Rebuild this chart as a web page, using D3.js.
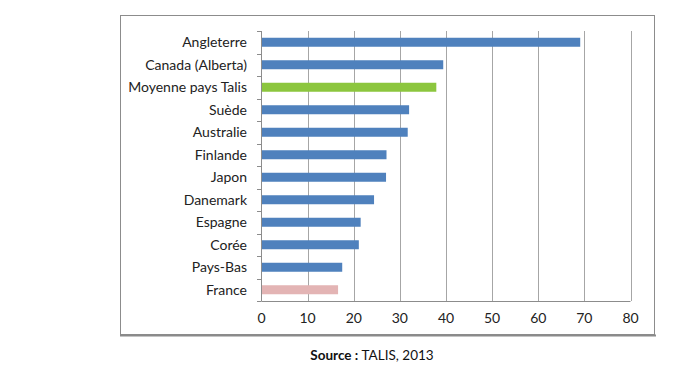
<!DOCTYPE html>
<html>
<head>
<meta charset="utf-8">
<script src="https://cdn.jsdelivr.net/npm/d3@7"></script>
<style>
  body { margin: 0; background: #fff; }
  svg { display: block; }
</style>
</head>
<body>
<svg></svg>
<script>
const countries = ["Angleterre", "Canada (Alberta)", "Moyenne pays Talis", "Suède", "Australie",
  "Finlande", "Japon", "Danemark", "Espagne", "Corée", "Pays-Bas", "France"];
const values = [69.1, 39.4, 37.9, 32.0, 31.7, 27.1, 27.0, 24.4, 21.5, 21.1, 17.5, 16.6];
const xTicks = [0, 10, 20, 30, 40, 50, 60, 70, 80];

const svg = d3.select("svg").attr("width", 691).attr("height", 382);
const font = "Lato, 'Open Sans', sans-serif";

// chart frame
svg.append("rect")
  .attr("x", 120.5).attr("y", 15.5)
  .attr("width", 534).attr("height", 319)
  .attr("fill", "#fff").attr("stroke", "#8c8c8c").attr("stroke-width", 1);
svg.append("line")
  .attr("x1", 120).attr("x2", 656).attr("y1", 335.5).attr("y2", 335.5)
  .attr("stroke", "#8a8a8a").attr("stroke-width", 2);

const x = d3.scaleLinear().domain([0, 80]).range([261.5, 630.5]);
const y = d3.scaleBand().domain(countries).range([31, 301]).paddingInner(0.6).paddingOuter(0.3);
const band = d3.scaleBand().domain(countries).range([31, 301]);

const g = svg.append("g");

// gridlines
g.selectAll("line.grid")
  .data(xTicks.slice(1))
  .enter().append("line")
  .attr("x1", d => Math.round(x(d)) + 0.5).attr("x2", d => Math.round(x(d)) + 0.5)
  .attr("y1", 31).attr("y2", 301)
  .attr("stroke", "#a6a6a6");

// bars
g.selectAll("rect.bar")
  .data(countries)
  .enter().append("rect")
  .attr("x", x(0))
  .attr("y", d => y(d))
  .attr("width", (d, i) => x(values[i]) - x(0))
  .attr("height", y.bandwidth())
  .attr("fill", d => d === "Moyenne pays Talis" ? "#8cc63e" : d === "France" ? "#e3b4b4" : "#4f81bd");

// y axis line + ticks at band boundaries
g.append("line")
  .attr("x1", 261.5).attr("x2", 261.5).attr("y1", 31).attr("y2", 301)
  .attr("stroke", "#8c8c8c");
g.selectAll("line.ytick")
  .data(countries.concat(["_end"]))
  .enter().append("line")
  .attr("x1", 257).attr("x2", 261.5)
  .attr("y1", (d, i) => Math.round(31 + i * band.step()) + 0.5)
  .attr("y2", (d, i) => Math.round(31 + i * band.step()) + 0.5)
  .attr("stroke", "#8c8c8c");

// x axis line
g.append("line")
  .attr("x1", 261.5).attr("x2", 630.5).attr("y1", 301.5).attr("y2", 301.5)
  .attr("stroke", "#8c8c8c");

// category labels
g.selectAll("text.cat")
  .data(countries)
  .enter().append("text")
  .attr("x", 247)
  .attr("y", d => band(d) + band.bandwidth() / 2)
  .attr("dy", "0.35em")
  .attr("text-anchor", "end")
  .attr("font-family", font)
  .attr("font-size", 14)
  .attr("fill", "#222")
  .text(d => d);

// x tick labels
g.selectAll("text.xt")
  .data(xTicks)
  .enter().append("text")
  .attr("x", d => x(d))
  .attr("y", 318)
  .attr("dy", "0.35em")
  .attr("text-anchor", "middle")
  .attr("font-family", font)
  .attr("font-size", 14)
  .attr("fill", "#222")
  .text(d => d);

// source
const src = svg.append("text")
  .attr("x", 372).attr("y", 355).attr("dy", "0.35em")
  .attr("text-anchor", "middle")
  .attr("font-family", font)
  .attr("font-size", 13.5)
  .attr("fill", "#111");
src.append("tspan").attr("font-weight", "bold").text("Source : ");
src.append("tspan").text("TALIS, 2013");
</script>
</body>
</html>
